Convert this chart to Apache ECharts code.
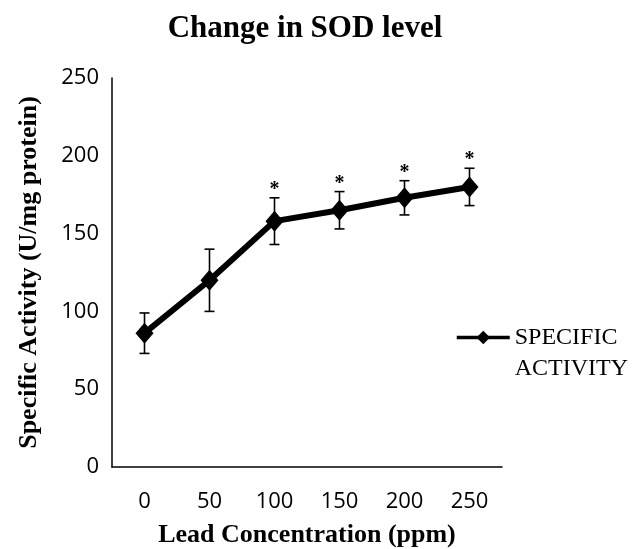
<!DOCTYPE html>
<html><head><meta charset="utf-8">
<script src="https://cdn.jsdelivr.net/npm/echarts@6/dist/echarts.min.js"></script>
<style>html,body{margin:0;padding:0;background:#fff}#c{width:644px;height:549px}</style>
</head><body><div id="c"></div>
<script>
const categories = ['0', '50', '100', '150', '200', '250'];
const means = [86, 120, 158, 165, 173, 180];
const errors = [13, 20, 15, 12, 11, 12];
const significant = [false, false, true, true, true, true];
const yTicks = { min: 0, max: 250, interval: 50 };
const seriesName = 'SPECIFIC\nACTIVITY';

const errData = categories.map((c, i) => [i, means[i] - errors[i], means[i] + errors[i], significant[i] ? 1 : 0]);

const chart = echarts.init(document.getElementById('c'));
chart.setOption({
  animation: false,
  backgroundColor: '#fff',
  graphic: [{
    type: 'text', x: 305, y: 13,
    style: { text: 'Change in SOD level', font: 'bold 31px "Liberation Serif"', fill: '#000', align: 'center', verticalAlign: 'top' }
  }],
  grid: { left: 112, right: 142, top: 78, bottom: 82, containLabel: false, outerBoundsMode: 'none' },
  legend: {
    left: 455, top: 291, padding: 0,
    data: [seriesName],
    itemWidth: 53, itemHeight: 17, itemGap: 0,
    formatter: function (name) { return ' \n' + name; },
    textStyle: { fontFamily: 'Liberation Serif', fontSize: 24, color: '#000', lineHeight: 31 },
    lineStyle: { width: 3.5 }
  },
  xAxis: {
    type: 'category', data: categories, boundaryGap: true,
    name: 'Lead Concentration (ppm)', nameLocation: 'middle', nameGap: 55,
    nameTextStyle: { fontFamily: 'Liberation Serif', fontWeight: 'bold', fontSize: 26, color: '#000' },
    axisLine: { lineStyle: { color: '#000', width: 1.5 } },
    axisTick: { show: false },
    axisLabel: { fontFamily: 'Open Sans', fontSize: 22, color: '#000', margin: 24 }
  },
  yAxis: {
    type: 'value', min: yTicks.min, max: yTicks.max, interval: yTicks.interval,
    name: 'Specific Activity (U/mg protein)', nameLocation: 'middle', nameGap: 70,
    nameTextStyle: { fontFamily: 'Liberation Serif', fontWeight: 'bold', fontSize: 26, color: '#000' },
    axisLine: { show: true, lineStyle: { color: '#000', width: 1.5 } },
    axisTick: { show: false },
    splitLine: { show: false },
    axisLabel: { fontFamily: 'Open Sans', fontSize: 22, color: '#000', margin: 13 }
  },
  series: [{
    name: seriesName, type: 'line', data: means,
    symbol: 'diamond', symbolSize: [18, 21],
    lineStyle: { color: '#000', width: 6 },
    itemStyle: { color: '#000' },
    z: 3
  }, {
    type: 'custom', data: errData, z: 2,
    renderItem: function (params, api) {
      const x = api.value(0);
      const lo = api.coord([x, api.value(1)]);
      const hi = api.coord([x, api.value(2)]);
      const hw = 5;
      const st = { stroke: '#000', lineWidth: 1.6 };
      const children = [
        { type: 'line', shape: { x1: lo[0], y1: lo[1], x2: hi[0], y2: hi[1] }, style: st },
        { type: 'line', shape: { x1: lo[0] - hw, y1: lo[1], x2: lo[0] + hw, y2: lo[1] }, style: st },
        { type: 'line', shape: { x1: hi[0] - hw, y1: hi[1], x2: hi[0] + hw, y2: hi[1] }, style: st }
      ];
      if (api.value(3)) {
        children.push({ type: 'text', x: hi[0], y: hi[1] - 8, style: { text: '*', font: 'bold 20px "Liberation Serif"', fill: '#000', align: 'center', verticalAlign: 'middle' } });
      }
      return { type: 'group', children: children };
    }
  }]
});
</script></body></html>
